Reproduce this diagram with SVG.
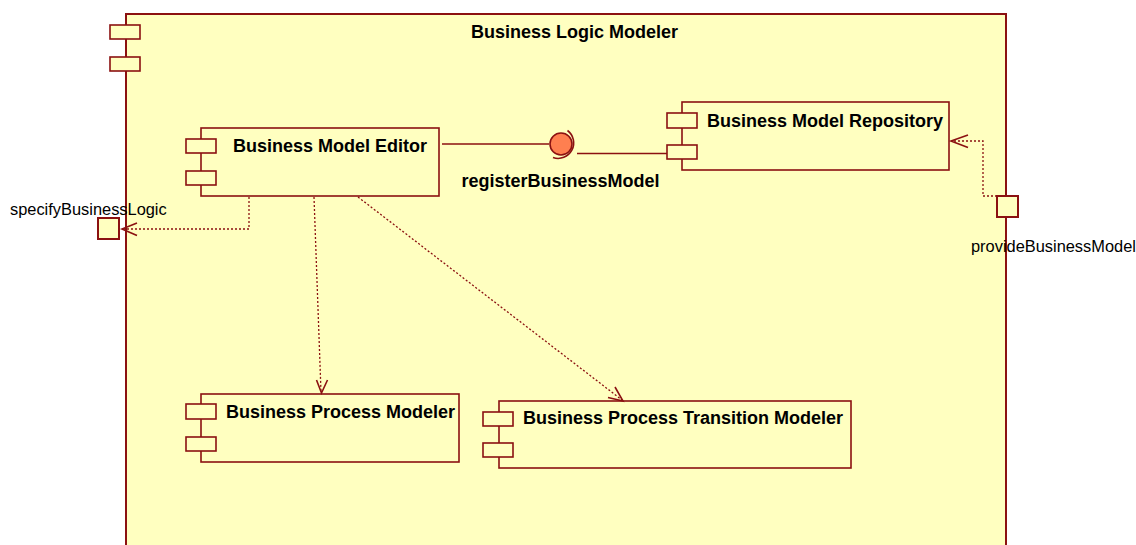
<svg xmlns="http://www.w3.org/2000/svg" width="1136" height="545" viewBox="0 0 1136 545">
<defs>
<style>
.box{fill:#FFFFC0;stroke:#8B1111;stroke-width:1.6}
.outer{fill:#FFFFC0;stroke:#8B1111;stroke-width:2}
.port{fill:#FFFFC0;stroke:#8B1111;stroke-width:2}
.bold{font-family:"Liberation Sans",Arial,sans-serif;font-weight:bold;font-size:18px;fill:#000}
.reg{font-family:"Liberation Sans",Arial,sans-serif;font-size:16.4px;fill:#000}
.dep{fill:none;stroke:#8B1111;stroke-width:1.3;stroke-dasharray:2,2}
.solid{fill:none;stroke:#8B1111;stroke-width:1.6}
.arrow{fill:none;stroke:#8B1111;stroke-width:1.6}
</style>
</defs>
<rect width="1136" height="545" fill="#FFFFFF"/>
<g id="business-logic-modeler">
<rect class="outer" x="126" y="14" width="880" height="560"/>
<rect class="box" x="110" y="25" width="30" height="14"/>
<rect class="box" x="110" y="57" width="30" height="14"/>
<text class="bold" x="574.5" y="37.5" text-anchor="middle">Business Logic Modeler</text>
</g>
<g id="business-model-editor">
<rect class="box" x="201" y="128" width="238" height="68"/>
<rect class="box" x="186" y="139" width="30" height="14"/>
<rect class="box" x="186" y="171" width="30" height="14"/>
<text class="bold" x="233" y="152">Business Model Editor</text>
</g>
<g id="business-model-repository">
<rect class="box" x="682" y="102" width="267" height="68"/>
<rect class="box" x="667" y="113" width="30" height="15"/>
<rect class="box" x="667" y="145" width="30" height="14"/>
<text class="bold" x="707" y="127">Business Model Repository</text>
</g>
<g id="business-process-modeler">
<rect class="box" x="201" y="394" width="258" height="68"/>
<rect class="box" x="186" y="404" width="30" height="15"/>
<rect class="box" x="186" y="437" width="30" height="14"/>
<text class="bold" x="226" y="418">Business Process Modeler</text>
</g>
<g id="business-process-transition-modeler">
<rect class="box" x="499" y="401" width="352" height="67"/>
<rect class="box" x="483" y="412" width="30" height="14"/>
<rect class="box" x="483" y="443" width="30" height="14"/>
<text class="bold" x="523" y="424">Business Process Transition Modeler</text>
</g>
<g id="register-business-model">
<circle cx="561" cy="144" r="11" fill="#FF7F50" stroke="#8B1111" stroke-width="1.6"/>
<path class="solid" d="M567.5,130.5 A15.5,15.5 0 0 1 553,157.5"/>
<text class="bold" x="560.5" y="187" text-anchor="middle">registerBusinessModel</text>
</g>
<g id="specify-business-logic">
<rect class="port" x="98" y="218" width="21" height="21"/>
<text class="reg" x="10" y="215">specifyBusinessLogic</text>
</g>
<g id="provide-business-model">
<rect class="port" x="997" y="196" width="21" height="21"/>
<text class="reg" x="971" y="252">provideBusinessModel</text>
</g>
<g id="connectors">
<path class="solid" d="M442,144 L549,144"/>
<path class="solid" d="M577,153.5 L667,153.5"/>
<path class="dep" d="M249,197 L249,229 L123,229"/>
<path class="arrow" d="M137,223 L122,229 L137,235.5"/>
<path class="dep" d="M997,196 L983,196 L983,141 L952,141"/>
<path class="arrow" d="M968,135 L951,141 L968,147.5"/>
<path class="dep" d="M314,197 L321,392"/>
<path class="arrow" d="M316.5,380 L321.5,393 L327.5,380"/>
<path class="dep" d="M358,197 L622,400"/>
<path class="arrow" d="M615,387 L623,401 L608,397.5"/>
</g>
</svg>
